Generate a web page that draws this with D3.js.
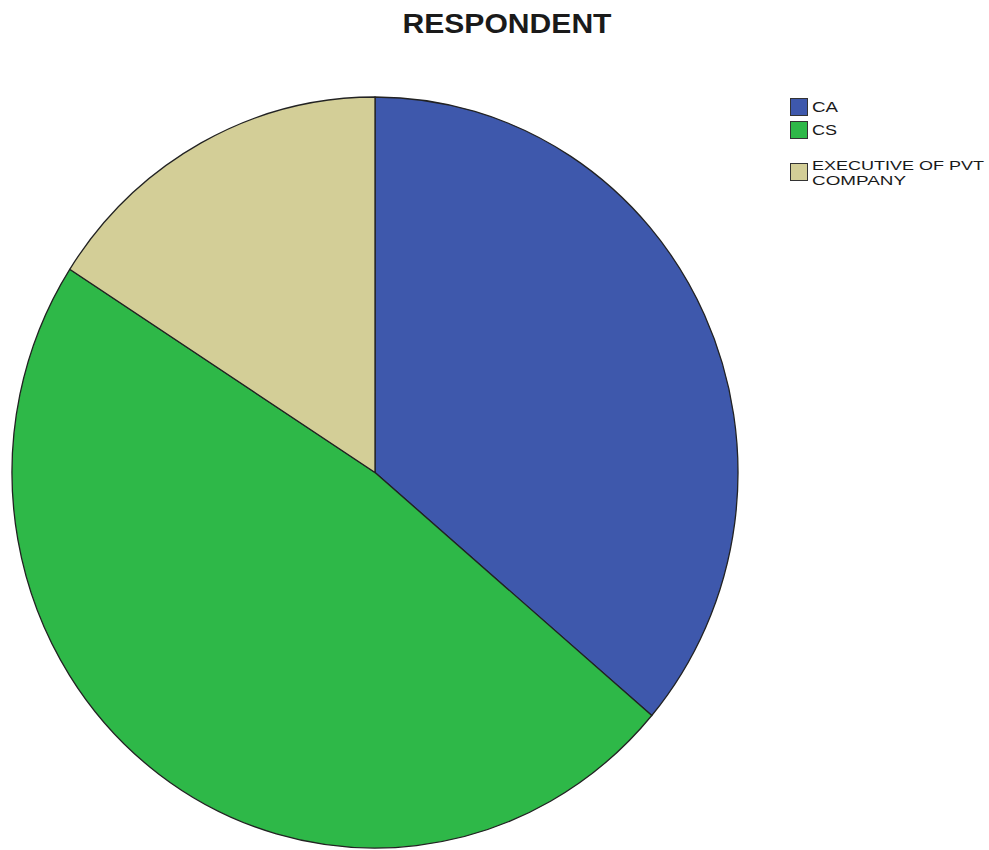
<!DOCTYPE html>
<html>
<head>
<meta charset="utf-8">
<script src="https://d3js.org/d3.v7.min.js"></script>
<style>
  html, body { margin: 0; padding: 0; background: #fff; }
  svg { display: block; }
  text { font-family: 'Liberation Sans', Arial, sans-serif; fill: #1a1a1a; }
</style>
</head>
<body>
<div id="chart"></div>
<script>
// respondent share in percent
var categories = ["CA", "CS", "EXECUTIVE OF PVT COMPANY"];
var shares = [36.2, 47.9, 15.9];
var colors = ["#3e58ac", "#2eb848", "#d3ce97"];
var legendLines = [["CA"], ["CS"], ["EXECUTIVE OF PVT", "COMPANY"]];

var width = 989, height = 850;
var svg = d3.select("#chart").append("svg")
    .attr("width", width)
    .attr("height", height);

// title
svg.append("text")
    .attr("x", 507)
    .attr("y", 33)
    .attr("text-anchor", "middle")
    .attr("font-size", 27)
    .attr("font-weight", "bold")
    .attr("textLength", 209)
    .attr("lengthAdjust", "spacingAndGlyphs")
    .text("RESPONDENT");

// pie is slightly taller than wide in the original
var cx = 375, cy = 472.5, rx = 363, ry = 375.5;

var pie = d3.pie().sort(null).value(function(d){ return d; });
var arc = d3.arc().innerRadius(0).outerRadius(ry);

var g = svg.append("g")
    .attr("transform", "translate(" + cx + "," + cy + ") scale(" + (rx / ry) + ",1)");

g.selectAll("path")
    .data(pie(shares))
    .enter()
    .append("path")
    .attr("d", arc)
    .attr("fill", function(d, i){ return colors[i]; })
    .attr("stroke", "#222")
    .attr("stroke-width", 1.3)
    .attr("vector-effect", "non-scaling-stroke")
    .attr("stroke-linejoin", "round");

// legend
var legendY = [98, 121, 163];
var lineWidths = {"CA": 26, "CS": 25, "EXECUTIVE OF PVT": 172, "COMPANY": 94};
var leg = svg.append("g").attr("class", "legend");

categories.forEach(function(c, i){
    leg.append("rect")
        .attr("x", 790.5)
        .attr("y", legendY[i] + 0.5)
        .attr("width", 17)
        .attr("height", 17)
        .attr("fill", colors[i])
        .attr("stroke", "#333")
        .attr("stroke-width", 1);

    var n = legendLines[i].length;
    legendLines[i].forEach(function(line, j){
        leg.append("text")
            .attr("x", 812)
            .attr("y", n > 1 ? legendY[i] + 7 + j * 15 : legendY[i] + 14)
            .attr("font-size", n > 1 ? 13 : 14)
            .attr("textLength", lineWidths[line])
            .attr("lengthAdjust", "spacingAndGlyphs")
            .text(line);
    });
});
</script>
</body>
</html>
